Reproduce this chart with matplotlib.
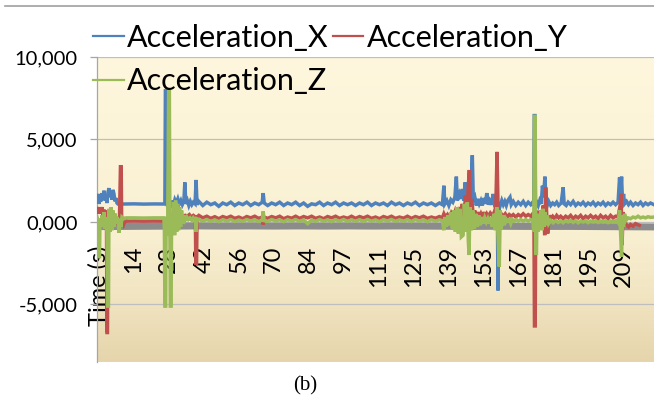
import numpy as np
import matplotlib
matplotlib.use("Agg")
import matplotlib.pyplot as plt
from matplotlib.colors import LinearSegmentedColormap
from matplotlib.lines import Line2D

# ---------------- data (time in s, acceleration) ----------------
tick_labels = ["Time (s)", "14", "28", "42", "56", "70", "84", "97", "111",
               "125", "139", "153", "167", "181", "195", "209"]
yticks = [10000, 5000, 0, -5000]
ytick_labels = ["10,000", "5,000", "0,000", "-5,000"]
series_names = ["Acceleration_X", "Acceleration_Y", "Acceleration_Z"]

accel_x = [
    (-0.8, 1500), (-0.4, 1700), (0.0, 1100), (0.4, 1400), (0.8, 1250), (1.2, 1750), (1.6, 1350),
    (2.0, 1900), (2.4, 1300), (2.8, 1600), (3.2, 1150), (3.6, 1800), (4.0, 2050), (4.4, 1500),
    (4.8, 1900), (5.2, 1350), (5.6, 1950), (6.0, 1700), (6.4, 1250), (6.8, 1450), (7.2, 1150),
    (7.6, 1090), (10, 1090), (14, 1100), (18, 1085), (22, 1095), (26.4, 1090),
    (26.6, 7950), (27.3, 7950), (27.5, 900),
    (28.0, 1250), (28.6, 850), (29.2, 1300), (29.8, 1000), (30.4, 1350), (31.0, 1150), (31.6, 1400),
    (32.2, 1100), (32.8, 1300), (33.4, 1050), (34.0, 1250), (34.4, 2400), (34.8, 1100), (35.4, 1300),
    (36.0, 1000), (36.6, 1250), (37.2, 1050), (37.8, 1200), (38.5, 1100), (38.9, 2550), (39.3, 1050),
    (40.0, 1250), (41.6, 1000), (43.2, 1200), (44.8, 1050), (46.4, 1150), (48.0, 950), (49.6, 1150),
    (51.2, 1050), (52.8, 1200), (54.4, 1000), (56.0, 1150), (57.6, 1050), (59.2, 1200), (60.8, 1000),
    (62.4, 1150), (64.0, 1050), (65.4, 1200), (65.8, 1750), (66.2, 1150), (67.6, 1000), (69.2, 1150),
    (70.8, 1050), (72.4, 1200), (74.0, 1000), (75.6, 1150), (77.2, 1050), (78.8, 1200), (80.4, 1000),
    (82.0, 1150), (83.6, 950), (85.2, 1100), (86.8, 1050), (88.4, 1200), (90.0, 1000), (91.6, 1150),
    (93.2, 1050), (94.8, 1200), (96.4, 1000), (98.0, 1150), (99.6, 1050), (101.2, 1150), (102.8, 1000),
    (104.4, 1150), (106.0, 1050), (107.6, 1200), (109.2, 1000), (110.8, 1150), (112.4, 1050),
    (114.0, 1150), (115.6, 1000), (117.2, 1200), (118.8, 1050), (120.4, 1150), (122.0, 1000),
    (123.6, 1150), (125.2, 1050), (126.8, 1200), (128.4, 1000), (130.0, 1150), (131.6, 1050),
    (133.2, 1150), (134.8, 1000), (136.4, 1150),
    (137.6, 1050), (138.2, 2200), (138.6, 1100), (139.4, 1300), (140.2, 1000), (141.0, 1350),
    (141.8, 1200), (142.6, 1500), (143.2, 2750), (143.6, 1300), (144.4, 1700), (145.0, 1400),
    (145.6, 2000), (146.2, 1300), (146.7, 2400), (147.2, 1500), (147.8, 2300), (148.3, 1200),
    (149.0, 1800), (149.6, 4050), (150.0, 1300), (150.6, 1500), (151.2, 1000), (151.8, 1400),
    (152.4, 1100), (153.0, 1300), (153.6, 1000), (154.2, 1450), (154.8, 1100), (155.4, 1750),
    (156.0, 1050), (156.6, 1300), (157.4, 1050), (157.9, 1700), (158.4, 1150), (159.0, 1300),
    (159.6, 1050), (159.9, -4150), (160.2, 1200), (160.8, 1000), (161.4, 1300), (162.0, 1050),
    (162.6, 1250), (163.2, 1000), (163.8, 1300), (164.7, 1500), (165.2, 1050), (166.0, 1250),
    (167.0, 1000), (168.0, 1200), (169.0, 1050), (170.0, 1250), (171.0, 1000), (172.0, 1200),
    (173.0, 1050), (173.8, 1200),
    (174.2, 1000), (174.4, 6450), (174.7, 6450), (174.9, 900), (175.4, 1200), (176.0, 1000),
    (176.6, 1300), (177.2, 1100), (177.7, 2200), (178.1, 1500), (178.7, 2750), (179.1, 1300),
    (179.6, 1000), (180.2, 1250), (181.0, 1000), (181.8, 1150), (182.6, 1050), (183.4, 1200),
    (184.2, 1000), (185.2, 1150), (186.0, 2100), (186.4, 1100), (187.2, 1000), (188.0, 1200),
    (189.0, 1050), (190.0, 1250), (191.0, 1000), (192.0, 1150), (193.0, 1050), (194.0, 1200),
    (195.0, 1000), (196.0, 1150), (197.0, 1050), (198.0, 1200), (199.0, 1000), (200.0, 1150),
    (201.0, 1050), (202.0, 1200), (203.0, 1000), (204.0, 1150), (205.0, 1050), (206.0, 1200),
    (207.0, 1050), (208.0, 1200), (208.6, 2700), (209.0, 1500), (209.4, 2750), (209.8, 1200),
    (210.2, 1700), (210.6, 1100), (211.4, 1250), (212.2, 1050), (213.0, 1200), (214.0, 1000),
    (215.0, 1150), (216.0, 1050), (217.0, 1200), (218.0, 1000), (219.0, 1150), (220.0, 1050),
    (221.0, 1150), (222.4, 1050),
]

accel_y = [
    (-0.8, 700), (-0.4, 900), (0.0, 500), (0.4, 800), (0.8, 600), (1.2, 900), (1.6, 400), (2.0, 750),
    (2.4, 500), (2.8, 700), (3.0, 400), (3.2, -6700), (3.4, -6700), (3.6, 300), (4.0, 600), (4.4, 200),
    (4.8, 500), (5.2, -300), (5.6, 400), (6.0, 100), (6.4, 500), (6.8, -200), (7.2, 300), (7.6, 0),
    (8.2, 200), (8.6, 3350), (8.9, 3350), (9.1, -300), (9.5, 200), (10.0, -100), (10.6, 150),
    (11.2, 50), (14, 60), (18, 50), (22, 60), (26.2, 50),
    (26.6, -300), (27.0, 300), (27.6, -600), (28.2, 200), (28.8, -1100), (29.2, 200), (29.8, 400),
    (30.6, 300), (31.4, 450), (32.2, 350), (33.0, 450), (33.8, 300), (34.6, 400), (35.4, 350),
    (36.2, 450), (37.0, 300), (37.8, 400), (38.6, 300), (38.8, -2500), (39.1, -2500), (39.3, 300),
    (40.0, 400), (41.6, 250), (43.2, 350), (44.8, 220), (46.4, 320), (48.0, 200), (49.6, 330),
    (51.2, 250), (52.8, 350), (54.4, 220), (56.0, 300), (57.6, 200), (59.2, 330), (60.8, 250),
    (62.4, 350), (64.0, 220), (65.4, 300), (65.8, -150), (66.2, 300), (67.6, 220), (69.2, 330),
    (70.8, 250), (72.4, 350), (74.0, 200), (75.6, 300), (77.2, 230), (78.8, 350), (80.4, 220),
    (82.0, 330), (83.6, 250), (85.2, 350), (86.8, 220), (88.4, 300), (90.0, 200), (91.6, 330),
    (93.2, 250), (94.8, 350), (96.4, 220), (98.0, 300), (99.6, 230), (101.2, 350), (102.8, 220),
    (104.4, 330), (106.0, 250), (107.6, 350), (109.2, 220), (110.8, 300), (112.4, 200), (114.0, 330),
    (115.6, 250), (117.2, 350), (118.8, 220), (120.4, 300), (122.0, 230), (123.6, 350), (125.2, 220),
    (126.8, 330), (128.4, 250), (130.0, 350), (131.6, 220), (133.2, 300), (134.8, 230), (136.4, 330),
    (137.6, 250), (138.2, 500), (138.8, 300), (139.6, 450), (140.4, 200), (141.2, 550), (142.0, 350),
    (142.8, 700), (143.6, 400), (144.4, 900), (145.0, 500), (145.6, 1100), (146.2, -200), (146.8, 1600),
    (147.4, 400), (148.0, 2200), (148.4, 3150), (148.8, 800), (149.4, 1400), (150.0, 300), (150.6, 700),
    (151.2, 200), (151.8, 600), (152.4, 300), (153.0, 500), (153.6, 250), (154.2, 600), (154.8, 300),
    (155.4, 500), (156.0, 350), (156.8, 550), (157.6, 400), (158.4, 600), (159.0, 900), (159.5, 4250),
    (159.9, 1000), (160.2, -1500), (160.6, 400), (161.2, 500), (162.0, 350), (162.8, 500), (163.6, 300),
    (164.4, 450), (165.2, 350), (166.0, 450), (167.0, 300), (168.0, 450), (169.0, 350), (170.0, 500),
    (171.0, 350), (172.0, 450), (173.0, 350), (173.8, 500),
    (174.3, -500), (174.5, -6300), (174.8, -6300), (175.0, 300), (175.6, 500), (176.2, 300),
    (176.8, 700), (177.4, 400), (178.0, 1000), (178.6, -800), (179.0, 2100), (179.4, 500),
    (179.8, -700), (180.4, 400), (181.0, 200), (181.8, 350), (182.6, 200), (183.4, 400), (184.2, 250),
    (185.0, 350), (186.0, 200), (187.0, 350), (188.0, 250), (189.0, 400), (190.0, 200), (191.0, 350),
    (192.0, 250), (193.0, 400), (194.0, 200), (195.0, 350), (196.0, 250), (197.0, 400), (198.0, 250),
    (199.0, 350), (200.0, 200), (201.0, 400), (202.0, 250), (203.0, 350), (204.0, 200), (205.0, 400),
    (206.0, 250), (207.0, 350), (208.0, 300), (208.8, 1000), (209.2, 1700), (209.6, -1400),
    (210.0, 600), (210.6, 100), (211.4, -200), (212.2, -300), (213.0, -150), (214.0, -250),
    (215.0, -100), (216.5, -200),
]

accel_z = [
    (-0.8, 300), (-0.4, 100), (0.0, -2100), (0.2, -2100), (0.4, 200), (0.8, -300), (1.2, 400),
    (1.6, -200), (2.0, 600), (2.4, -400), (2.8, 300), (3.2, -700), (3.5, -5100), (3.8, -5100),
    (4.0, 800), (4.4, -600), (4.8, 900), (5.2, -500), (5.6, 700), (6.0, -300), (6.4, 500), (6.8, -100),
    (7.2, 300), (7.6, 100), (8.0, -650), (8.4, 200), (8.8, -300), (9.2, 300), (10.0, 200), (11.0, 250),
    (14, 250), (18, 240), (22, 250), (26.0, 250),
    (26.2, -400), (26.4, -5100), (26.7, -5100), (26.9, 300), (27.5, -800), (27.9, 7900), (28.2, 7900),
    (28.4, -500), (28.6, -5100), (28.9, -5100), (29.1, 600), (29.5, -700), (29.9, 1200), (30.3, -800),
    (30.7, 1300), (31.1, -600), (31.5, 1100), (31.9, -500), (32.3, 900), (32.7, -300), (33.1, 700),
    (33.5, -100), (33.9, 400), (34.5, 100), (35.2, 300), (35.8, 150), (36.5, 250), (37.2, 100),
    (37.8, 250), (38.6, 100), (38.9, -600), (39.2, 200), (40.0, 150),
    (41.6, 50), (43.2, 150), (44.8, 40), (46.4, 130), (48.0, 20), (49.6, 140), (51.2, 60), (52.8, 150),
    (54.4, 30), (56.0, 120), (57.6, 40), (59.2, 150), (60.8, 60), (62.4, 130), (64.0, 30), (65.4, 120),
    (65.8, 650), (66.2, 80), (67.6, 40), (69.2, 150), (70.8, 60), (72.4, 130), (74.0, 20), (75.6, 140),
    (77.2, 50), (78.8, 150), (80.4, 40), (82.0, 130), (83.6, -100), (85.2, 120), (86.8, 40), (88.4, 150),
    (90.0, 50), (91.6, 130), (93.2, 20), (94.8, 140), (96.4, 50), (98.0, 150), (99.6, 40), (101.2, 130),
    (102.8, 50), (104.4, 140), (106.0, 30), (107.6, 150), (109.2, 50), (110.8, 130), (112.4, 20),
    (114.0, 140), (115.6, 60), (117.2, 150), (118.8, 40), (120.4, 130), (122.0, 50), (123.6, 140),
    (125.2, 30), (126.8, 150), (128.4, 50), (130.0, 130), (131.6, 20), (133.2, 140), (134.8, 50),
    (136.4, 130),
    (137.6, 80), (138.2, -500), (138.6, 300), (139.2, -300), (139.8, 400), (140.4, -200), (141.0, 600),
    (141.6, -400), (142.2, 700), (142.8, -600), (143.4, 900), (144.0, -700), (144.6, 800), (145.2, -900),
    (145.9, -800), (146.4, 1100), (147.0, -600), (147.6, 1200), (148.0, -1200), (148.3, -2000),
    (148.6, 900), (149.2, -500), (149.8, 700), (150.4, -400), (151.0, 500), (151.6, -300), (152.2, 400),
    (152.8, -200), (153.4, 300), (154.0, -100), (154.6, 250), (155.2, 0), (155.8, 200), (156.4, -100),
    (157.0, 300), (157.6, -300), (158.2, 500), (158.8, -500), (159.4, 900), (159.9, -900),
    (160.4, -2700), (160.8, 700), (161.2, -400), (161.8, 400), (162.4, -200), (163.0, 200), (163.6, 50),
    (164.4, 150), (165.0, -100), (165.6, 150), (166.4, 50), (167.2, 150), (168.0, 50), (169.0, 150),
    (170.0, 50), (171.0, 150), (172.0, 50), (173.0, 150), (173.8, 100),
    (174.2, -600), (174.5, 6400), (174.8, 6400), (175.0, -1900), (175.3, -1900), (175.5, 400),
    (175.9, -600), (176.3, 500), (176.7, -400), (177.1, 700), (177.5, -500), (177.9, 800), (178.3, -300),
    (178.7, 600), (179.1, -200), (179.6, 400), (180.2, -100), (181.0, 100), (182.0, -50), (183.0, 80),
    (184.0, -30), (185.0, 60), (186.0, -50), (187.0, 80), (188.0, 0), (189.0, 100), (190.0, -30),
    (191.0, 80), (192.0, -50), (193.0, 60), (194.0, 0), (195.0, 80), (196.0, -40), (197.0, 60),
    (198.0, 0), (199.0, 80), (200.0, -30), (201.0, 60), (202.0, 0), (203.0, 80), (204.0, -40),
    (205.0, 60), (206.0, 0), (207.0, 80), (208.0, -50), (208.6, 700), (209.0, -600), (209.4, -2100),
    (209.8, 400), (210.2, -300), (210.6, 500), (211.2, 100), (212.0, 250), (213.0, 200), (214.0, 300),
    (215.0, 250), (216.0, 350), (217.0, 250), (218.0, 300), (219.0, 250), (220.0, 320), (221.0, 280),
    (222.4, 300),
]

gray_band = [
    (2, -280), (10, -270), (20, -260), (30, -250), (40, -240), (50, -250), (60, -240), (70, -250),
    (80, -240), (90, -250), (100, -240), (110, -250), (120, -240), (130, -250), (140, -260),
    (150, -270), (160, -260), (170, -270), (180, -270), (190, -270), (200, -280), (210, -290),
    (222.4, -300),
]

# ---------------- styling ----------------
BLUE, RED, GREEN, GRAY = "#4F81BD", "#C0504D", "#9BBB59", "#8C8C8C"
FONT = ["Lato", "DejaVu Sans"]

fig = plt.figure(figsize=(6.54, 4.08), dpi=100)
ax = fig.add_axes([97 / 654, 46 / 408, 1 - 97 / 654, (362 - 57) / 408])

# background gradient in plot area
cmap = LinearSegmentedColormap.from_list(
    "bg", [(0.0, "#E6D5AC"), (0.22, "#F1E5C2"), (0.45, "#FAF1D4"), (1.0, "#FEF7DD")])
grad = np.linspace(0, 1, 256).reshape(-1, 1)
ax.imshow(grad, extent=[0, 1, 0, 1], transform=ax.transAxes, cmap=cmap,
          aspect="auto", origin="lower", zorder=0)

ax.set_xlim(-0.8, 222.4)
ax.set_ylim(-8485, 10000)

for ytk in yticks:
    ax.axhline(ytk, color="#BEBEBE", lw=0.9, zorder=1)

def plot_series(pts, color, lw, z, label=None):
    t = [p[0] for p in pts]
    v = [p[1] for p in pts]
    return ax.plot(t, v, color=color, lw=lw, zorder=z, label=label,
                   solid_joinstyle="miter")[0]

plot_series(gray_band, GRAY, 5.0, 2)
hx = plot_series(accel_x, BLUE, 2.5, 3, series_names[0])
hy = plot_series(accel_y, RED, 2.5, 4, series_names[1])
hz = plot_series(accel_z, GREEN, 2.5, 5, series_names[2])

# axes
for s in ["top", "right"]:
    ax.spines[s].set_visible(False)
ax.spines["bottom"].set_position(("data", 0))
ax.spines["bottom"].set_visible(False)
ax.spines["left"].set_color("#A6A6A6")
ax.spines["left"].set_linewidth(0.9)

ax.set_yticks(yticks)
ax.set_yticklabels(ytick_labels, family=FONT, fontsize=14.5)
ax.tick_params(axis="y", length=5, width=0.9, color="#A6A6A6", pad=9)

xt = [14 * i for i in range(len(tick_labels))]
ax.set_xticks(xt)
ax.set_xticklabels(tick_labels, rotation=90, family=FONT, fontsize=17, va="top", ha="center")
ax.tick_params(axis="x", length=0, pad=17)

# legend
leg = fig.legend(handles=[hx, hz, hy], labels=[series_names[0], series_names[2], series_names[1]],
                 ncol=2, loc="upper left", bbox_to_anchor=(93 / 654, 1 - 24 / 408),
                 frameon=False, prop={"family": FONT, "size": 22}, handlelength=1.0,
                 handletextpad=0.1, columnspacing=0.15, labelspacing=0.5, borderpad=0,
                 borderaxespad=0)
for h in leg.get_lines():
    h.set_linewidth(1.6)

# page line at top
fig.add_artist(Line2D([0.008, 1.0], [1 - 6 / 408, 1 - 6 / 408], color="#A0A0A0", lw=1.2,
                      transform=fig.transFigure))

fig.text(305 / 654, 1 - 386 / 408, "(b)", family=["Liberation Serif", "DejaVu Serif"],
         fontsize=15, ha="center", va="center")

fig.savefig("out.png", dpi=100)
